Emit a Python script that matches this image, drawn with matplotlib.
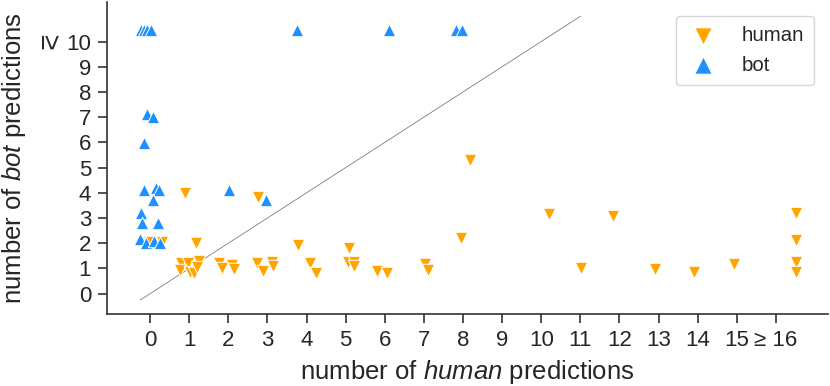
import matplotlib
matplotlib.use("Agg")
import matplotlib.pyplot as plt

plt.rcParams['font.family'] = ['Liberation Sans', 'DejaVu Sans']
plt.rcParams['mathtext.fontset'] = 'custom'
plt.rcParams['mathtext.rm'] = 'Liberation Sans'
plt.rcParams['mathtext.it'] = 'Liberation Sans:italic'

# bot predictions (blue, up triangles)
bot_x = [-0.23, -0.15, -0.08, 0.03, 3.75, 6.1, 7.83, 7.97,
         -0.08, 0.08, -0.15,
         -0.15, 0.15, 0.24, 0.08, 2.03, 2.96,
         -0.23, -0.2, 0.19,
         -0.26, -0.11, 0.1, 0.26]
bot_y = [10.46, 10.46, 10.46, 10.46, 10.46, 10.46, 10.46, 10.46,
         7.13, 7.0, 5.99,
         4.11, 4.19, 4.11, 3.72, 4.11, 3.72,
         3.19, 2.79, 2.79,
         2.16, 2.02, 2.09, 2.01]

# human predictions (orange, down triangles)
human_x = [0.9, 2.77, 1.18, 0.0, 0.3,
           0.79, 0.77, 0.98, 1.02, 1.13, 1.24, 1.19,
           1.77, 1.83, 2.09, 2.15,
           2.74, 2.88, 3.11, 3.13,
           3.79, 4.09, 4.24, 5.09, 5.07, 5.22, 5.22, 5.8, 6.05, 7.03, 7.1,
           7.95, 8.18, 10.19, 11.83, 11.01, 12.9, 13.9, 14.92,
           16.51, 16.51, 16.51, 16.51]
human_y = [4.01, 3.83, 2.0, 2.05, 2.05,
           1.2, 0.94, 1.22, 0.87, 0.81, 1.3, 1.07,
           1.2, 1.02, 1.14, 0.97,
           1.2, 0.88, 1.27, 1.1,
           1.93, 1.2, 0.83, 1.83, 1.27, 1.27, 1.1, 0.91, 0.81, 1.17, 0.94,
           2.22, 5.3, 3.15, 3.08, 1.0, 0.97, 0.87, 1.17,
           3.19, 2.13, 1.27, 0.87]

xticks = list(range(0, 17))
xticklabels = [str(i) for i in range(16)] + ['≥ 16']
yticks = list(range(0, 11))
yticklabels = [str(i) for i in range(11)]

text_color = '#262626'
fig = plt.figure(figsize=(8.3, 3.86), dpi=100)
ax = fig.add_axes([0.129, 0.187, 0.869, 0.808])

ax.plot([-0.25, 11], [-0.25, 11], color='#666666', lw=0.5, zorder=1)
ax.scatter(human_x, human_y, marker='v', s=80, color='#FFA500',
           edgecolor='white', linewidth=0.7, label='human', zorder=3)
ax.scatter(bot_x, bot_y, marker='^', s=80, color='#1E90FF',
           edgecolor='white', linewidth=0.7, label='bot', zorder=3)

ax.set_xlim(-1.1, 17.34)
ax.set_ylim(-0.8, 11.57)
ax.set_xticks(xticks)
ax.set_xticklabels(xticklabels)
ax.set_yticks(yticks)
ax.set_yticklabels(yticklabels)
ax.tick_params(axis='both', labelsize=16, length=6.5, width=1.2, pad=5,
               color='#333333', labelcolor=text_color, direction='out')
for s in ['top', 'right']:
    ax.spines[s].set_visible(False)
for s in ['left', 'bottom']:
    ax.spines[s].set_color('#333333')
    ax.spines[s].set_linewidth(1.2)

ax.annotate('≥', xy=(0, 10), xycoords=ax.get_yaxis_transform(),
            xytext=(-34, 0), textcoords='offset points', rotation=-90,
            ha='right', va='center', fontsize=20, color=text_color)

ax.set_xlabel('number of $\\it{human}$ predictions', fontsize=18.5, color=text_color)
ax.set_ylabel('number of $\\it{bot}$ predictions', fontsize=18.5, color=text_color)
ax.xaxis.set_label_coords(0.5, -0.143)
ax.yaxis.set_label_coords(-0.11, 0.5)

leg = ax.legend(loc='upper right', fontsize=14.7, markerscale=1.4,
                frameon=True, borderpad=0.5, handlelength=1.6,
                handletextpad=1.1, borderaxespad=0.7)
leg.get_frame().set_edgecolor('#cccccc')
for t in leg.get_texts():
    t.set_color(text_color)

fig.savefig('out.png', dpi=100)
